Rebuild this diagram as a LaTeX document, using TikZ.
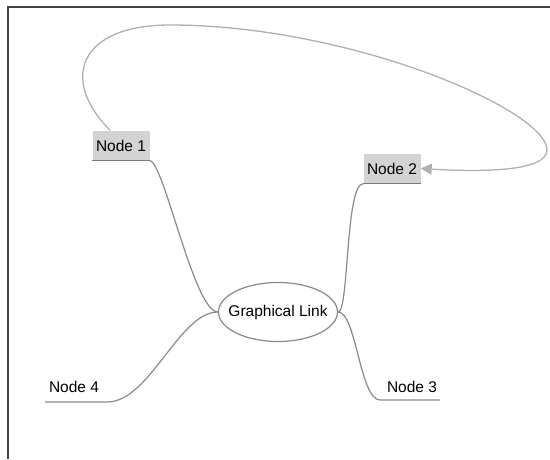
\documentclass[tikz,border=0pt]{standalone}
\usepackage{fontspec}
\setmainfont{Liberation Sans}
\usetikzlibrary{arrows.meta,shapes.geometric}
\definecolor{boxgray}{HTML}{D3D3D3}
\definecolor{linegray}{HTML}{8A8A8A}
\definecolor{loopgray}{HTML}{B0B0B0}
\definecolor{undergray}{HTML}{7A7A7A}
\definecolor{framegray}{HTML}{444444}
\tikzset{
  labelfont/.style={font=\fontsize{15.5}{18}\selectfont},
  topicbox/.style={labelfont, fill=boxgray, draw=none, inner sep=0pt, minimum width=57pt, minimum height=30pt},
  central/.style={labelfont, ellipse, draw=linegray, line width=1.2pt, inner xsep=-8.5pt, inner ysep=0pt, minimum width=119pt, minimum height=59pt},
  plainlabel/.style={labelfont, inner sep=0pt},
  conn/.style={draw=linegray, line width=1.2pt},
  underline/.style={draw=undergray, line width=1.4pt},
  looplink/.style={draw=loopgray, line width=1.3pt, -{Triangle[length=11pt,width=11pt,fill=loopgray]}},
  frameline/.style={draw=framegray, line width=1.6pt}
}
\begin{document}
\begin{tikzpicture}[x=1pt,y=-1pt]
\useasboundingbox (0,0) rectangle (550,459);
\draw[frameline] (8,459) -- (8,7) -- (550,7);

\node[central] (gl) at (278,312) {Graphical Link};
\node[topicbox] (n1) at (121,145.5) {Node 1};
\node[topicbox] (n2) at (392,168.5) {Node 2};
\node[plainlabel] (n3) at (412,387) {Node 3};
\node[plainlabel] (n4) at (74,387) {Node 4};

\coordinate (u3l) at (380,400);
\coordinate (u3r) at (440,400);
\coordinate (u4l) at (45,402);
\coordinate (u4r) at (107,402);

% underlines of boxed topics
\draw[underline] (n1.south west) -- (n1.south east);
\draw[underline] (n2.south west) -- (n2.south east);

% connectors
\draw[conn] (n1.south east) .. controls +(14,0) and +(-24,0) .. (gl.west);
\draw[conn] (n2.south west) .. controls +(-18,0) and +(11,0) .. (gl.east);
\draw[conn] (gl.east) .. controls +(18,0) and +(-20,0) .. (u3l) -- (u3r);
\draw[conn] (u4l) -- (u4r) .. controls +(43,0) and +(-39,0) .. (gl.west);

% graphical link loop
\coordinate (ls) at ([xshift=-11pt]n1.north);
\coordinate (ltop) at (170,25);
\coordinate (lright) at (547,150);
\draw[looplink] (ls) .. controls (60,80) and (78,25) .. (ltop)
  .. controls (350,25) and (547,110) .. (lright)
  .. controls (547,172) and (480,172) .. (n2.east);
\end{tikzpicture}
\end{document}
